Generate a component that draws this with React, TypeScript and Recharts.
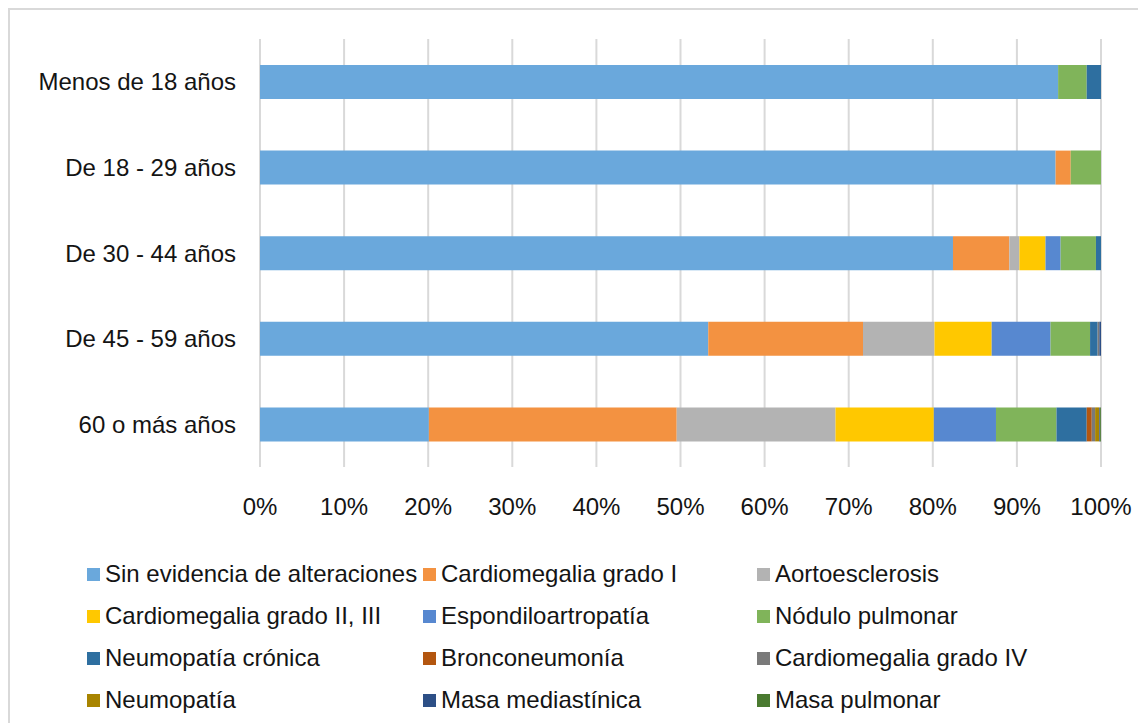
import { Bar, BarChart, CartesianGrid, Legend, XAxis, YAxis } from "recharts";

const categories = ["Menos de 18 años", "De 18 - 29 años", "De 30 - 44 años", "De 45 - 59 años", "60 o más años"];

const sinEvidencia = [94.9, 94.6, 82.4, 53.3, 20.1];
const cardioI = [0, 1.8, 6.7, 18.4, 29.5];
const aortoesclerosis = [0, 0, 1.2, 8.5, 18.9];
const cardioII = [0, 0, 3.1, 6.8, 11.7];
const espondilo = [0, 0, 1.8, 7.0, 7.4];
const nodulo = [3.4, 3.6, 4.2, 4.7, 7.2];
const neumoCronica = [1.7, 0, 0.6, 0.9, 3.6];
const bronco = [0, 0, 0, 0, 0.6];
const cardioIV = [0, 0, 0, 0.2, 0.4];
const neumopatia = [0, 0, 0, 0, 0.5];
const masaMediastinica = [0, 0, 0, 0.2, 0.1];
const masaPulmonar = [0, 0, 0, 0, 0.1];

const xTicks = [0, 0.1, 0.2, 0.3, 0.4, 0.5, 0.6, 0.7, 0.8, 0.9, 1];

const series = [
  { key: "s1", name: "Sin evidencia de alteraciones", values: sinEvidencia, color: "#6aa8dc" },
  { key: "s2", name: "Cardiomegalia grado I", values: cardioI, color: "#f39241" },
  { key: "s3", name: "Aortoesclerosis", values: aortoesclerosis, color: "#b3b3b3" },
  { key: "s4", name: "Cardiomegalia grado II, III", values: cardioII, color: "#ffc800" },
  { key: "s5", name: "Espondiloartropatía", values: espondilo, color: "#5788d0" },
  { key: "s6", name: "Nódulo pulmonar", values: nodulo, color: "#80b45a" },
  { key: "s7", name: "Neumopatía crónica", values: neumoCronica, color: "#2e6fa0" },
  { key: "s8", name: "Bronconeumonía", values: bronco, color: "#b3560f" },
  { key: "s9", name: "Cardiomegalia grado IV", values: cardioIV, color: "#7a7a7a" },
  { key: "s10", name: "Neumopatía", values: neumopatia, color: "#a88400" },
  { key: "s11", name: "Masa mediastínica", values: masaMediastinica, color: "#2d4f86" },
  { key: "s12", name: "Masa pulmonar", values: masaPulmonar, color: "#4a7a30" },
];

const data = categories.map((cat, i) => {
  const row: Record<string, string | number> = { cat };
  series.forEach((s) => (row[s.key] = s.values[i]));
  return row;
});

const FONT = "'Liberation Sans', Arial, sans-serif";
const TEXT = "#141414";
const FS = 24;

function LegendGrid() {
  return (
    <div style={{ position: "relative", width: 1134, height: 168, fontFamily: FONT, fontSize: FS, color: TEXT }}>
      {series.map((s, i) => {
        const col = i % 3;
        const row = Math.floor(i / 3);
        const lefts = [77, 413, 747];
        return (
          <div
            key={s.key}
            style={{
              position: "absolute",
              left: lefts[col],
              top: row * 42,
              height: 42,
              display: "flex",
              alignItems: "center",
              whiteSpace: "nowrap",
            }}
          >
            <span style={{ width: 13, height: 13, background: s.color, marginRight: 5, display: "inline-block" }} />
            {s.name}
          </div>
        );
      })}
    </div>
  );
}

export default function App() {
  return (
    <div
      style={{
        width: 1136,
        height: 713,
        borderTop: "2px solid #d9d9d9",
        borderLeft: "2px solid #d9d9d9",
        background: "#fff",
        overflow: "hidden",
      }}
    >
      <BarChart
        width={1134}
        height={711}
        data={data}
        layout="vertical"
        stackOffset="expand"
        barSize={34}
        margin={{ top: 29, right: 43, left: 0, bottom: 36 }}
      >
        <CartesianGrid horizontal={false} stroke="#d9d9d9" strokeWidth={2} />
        <XAxis
          type="number"
          domain={[0, 1]}
          ticks={xTicks}
          tickFormatter={(v) => `${Math.round(v * 100)}%`}
          axisLine={false}
          tickLine={false}
          tickSize={0}
          tickMargin={31}
          height={50}
          interval={0}
          tick={{ fill: TEXT, fontSize: FS, fontFamily: FONT }}
        />
        <YAxis
          type="category"
          dataKey="cat"
          width={250}
          axisLine={false}
          tickLine={false}
          tickSize={0}
          tickMargin={24}
          interval={0}
          tick={{ fill: TEXT, fontSize: FS, fontFamily: FONT }}
        />
        <Legend content={<LegendGrid />} wrapperStyle={{ top: 543, left: 0 }} />
        {series.map((s) => (
          <Bar key={s.key} dataKey={s.key} name={s.name} stackId="a" fill={s.color} isAnimationActive={false} />
        ))}
      </BarChart>
    </div>
  );
}
